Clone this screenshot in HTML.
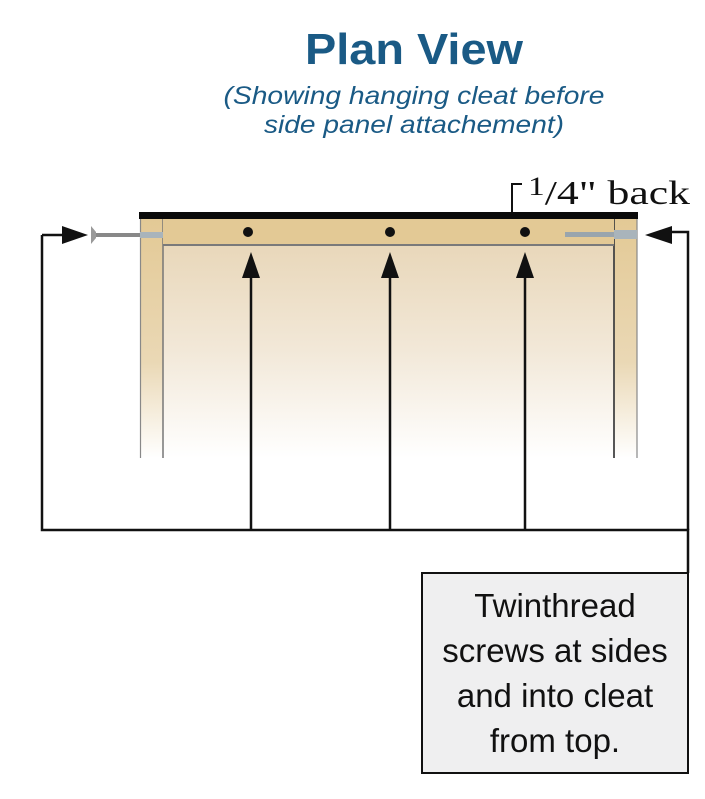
<!DOCTYPE html>
<html><head><style>
body{margin:0;background:#fff;width:705px;height:799px;overflow:hidden;position:relative}
</style></head><body>
<svg width="705" height="799" xmlns="http://www.w3.org/2000/svg" style="position:absolute;left:0;top:0">
<defs>
<linearGradient id="g" x1="0" y1="0" x2="0" y2="1">
<stop offset="0" stop-color="#e6d3b2"/><stop offset="0.55" stop-color="#f2e8d8"/><stop offset="1" stop-color="#fff"/>
</linearGradient>
<linearGradient id="p" x1="0" y1="0" x2="0" y2="1">
<stop offset="0" stop-color="#e3c995"/><stop offset="0.6" stop-color="#ead8b5"/><stop offset="1" stop-color="#fff"/>
</linearGradient>
</defs>
<text x="414" y="64" text-anchor="middle" font-family="Liberation Sans,sans-serif" font-size="44" font-weight="bold" fill="#1a5a85" textLength="218" lengthAdjust="spacingAndGlyphs">Plan View</text>
<text x="414" y="104" text-anchor="middle" font-family="Liberation Sans,sans-serif" font-size="25" font-style="italic" fill="#1a5a85" textLength="381" lengthAdjust="spacingAndGlyphs">(Showing hanging cleat before</text>
<text x="414" y="133" text-anchor="middle" font-family="Liberation Sans,sans-serif" font-size="25" font-style="italic" fill="#1a5a85" textLength="300" lengthAdjust="spacingAndGlyphs">side panel attachement)</text>
<rect x="140" y="218" width="497" height="240" fill="url(#g)"/>
<rect x="140" y="218" width="23" height="240" fill="url(#p)"/>
<rect x="614" y="218" width="23" height="240" fill="url(#p)"/>
<line x1="140.5" y1="218" x2="140.5" y2="458" stroke="#888" stroke-width="1.2"/>
<line x1="163" y1="218" x2="163" y2="458" stroke="#777" stroke-width="1.5"/>
<line x1="614" y1="218" x2="614" y2="458" stroke="#444" stroke-width="1.8"/>
<line x1="637" y1="218" x2="637" y2="458" stroke="#888" stroke-width="1.2"/>
<rect x="163" y="218" width="451" height="27" fill="#e3c995"/>
<line x1="163" y1="245" x2="614" y2="245" stroke="#7a7a7a" stroke-width="2"/>
<rect x="139" y="212" width="499" height="7" fill="#0a0a0a"/>
<circle cx="248" cy="232" r="5" fill="#111"/>
<circle cx="390" cy="232" r="5" fill="#111"/>
<circle cx="525" cy="232" r="5" fill="#111"/>
<path d="M91 226 L96 232 L96 238 L91 244 Z" fill="#999"/>
<rect x="96" y="233" width="45" height="4" fill="#888"/>
<rect x="140" y="232" width="23" height="6" fill="#a9b4bb"/>
<rect x="565" y="232" width="50" height="5" fill="#9aa5ad"/>
<rect x="614" y="230" width="23" height="9" fill="#a9b4bb"/>
<g stroke="#111" stroke-width="2.5" fill="none">
<path d="M42 235 V530 H688 V573"/>
<path d="M688 530 V232 H672"/>
<path d="M42 235 H70"/>
<line x1="251" y1="275" x2="251" y2="530"/>
<line x1="390" y1="275" x2="390" y2="530"/>
<line x1="525" y1="275" x2="525" y2="530"/>
</g>
<path d="M88 235 L62 226 L62 244 Z" fill="#111"/>
<path d="M645 235 L672 226 L672 244 Z" fill="#111"/>
<path d="M251 252 L242 278 L260 278 Z" fill="#111"/>
<path d="M390 252 L381 278 L399 278 Z" fill="#111"/>
<path d="M525 252 L516 278 L534 278 Z" fill="#111"/>
<path d="M512 212 V184 H522" stroke="#111" stroke-width="2" fill="none"/>
<text x="528" y="204" font-family="Liberation Serif,serif" font-size="34" fill="#111" textLength="162" lengthAdjust="spacingAndGlyphs"><tspan font-size="26" dy="-9">1</tspan><tspan dy="9">/4" back</tspan></text>
<rect x="422" y="573" width="266" height="200" fill="#efeff0" stroke="#111" stroke-width="2"/>
<g font-family="Liberation Sans,sans-serif" font-size="33" fill="#111" text-anchor="middle">
<text x="555" y="617">Twinthread</text>
<text x="555" y="662">screws at sides</text>
<text x="555" y="707">and into cleat</text>
<text x="555" y="752">from top.</text>
</g>
</svg>
</body></html>
